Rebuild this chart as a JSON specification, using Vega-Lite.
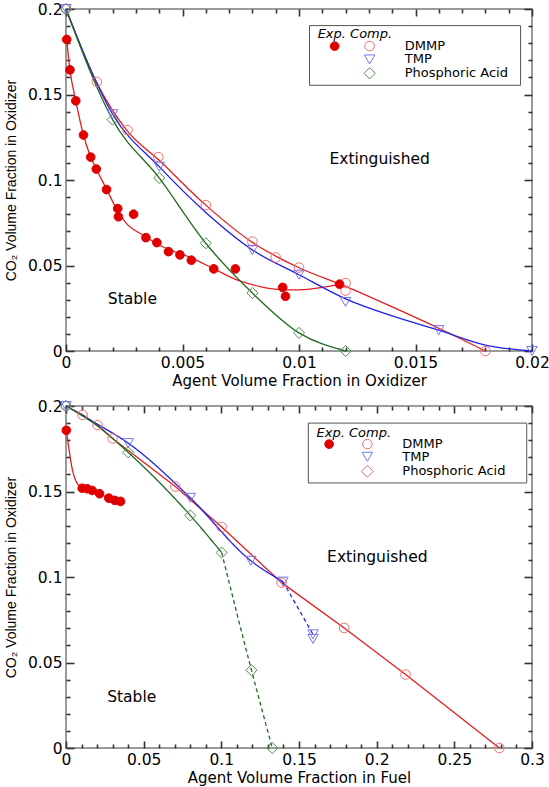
{
  "$schema": "https://vega.github.io/schema/vega-lite/v6.json",
  "padding": {"left": 3, "top": 0, "right": 0, "bottom": 0},
  "spacing": 7,
  "config": {
    "view": {"stroke": "#7a7a7a", "strokeWidth": 1.5},
    "axis": {"domain": false, "grid": false, "labelFlush": false, "labelOverlap": false, "tickColor": "#333333", "tickWidth": 1.6, "labelFont": "DejaVu Sans", "labelFontSize": 15.5, "labelColor": "#000000", "titleFont": "DejaVu Sans", "titleFontSize": 15, "titleFontWeight": "normal", "titleColor": "#000000"},
    "text": {"font": "DejaVu Sans", "fontSize": 15.5, "color": "#000000"}
  },
  "datasets": {
    "tp": [
      {"s": "DMMP", "x": 0, "y": 0.2}, {"s": "DMMP", "x": 0.00132, "y": 0.1574}, {"s": "DMMP", "x": 0.00264, "y": 0.1292}, {"s": "DMMP", "x": 0.00396, "y": 0.1134}, {"s": "DMMP", "x": 0.006, "y": 0.0853}, {"s": "DMMP", "x": 0.008, "y": 0.064}, {"s": "DMMP", "x": 0.009, "y": 0.0547}, {"s": "DMMP", "x": 0.01, "y": 0.0488}, {"s": "DMMP", "x": 0.012, "y": 0.0397}, {"s": "DMMP", "x": 0.012, "y": 0.0353}, {"s": "DMMP", "x": 0.018, "y": 0.0},
      {"s": "PA", "x": 0, "y": 0.2}, {"s": "PA", "x": 0.002, "y": 0.1353}, {"s": "PA", "x": 0.004, "y": 0.1012}, {"s": "PA", "x": 0.006, "y": 0.063}, {"s": "PA", "x": 0.008, "y": 0.0339}, {"s": "PA", "x": 0.01, "y": 0.0106}, {"s": "PA", "x": 0.012, "y": 0.0},
      {"s": "TMP", "x": 0, "y": 0.2}, {"s": "TMP", "x": 0.002, "y": 0.1385}, {"s": "TMP", "x": 0.004, "y": 0.1078}, {"s": "TMP", "x": 0.008, "y": 0.0591}, {"s": "TMP", "x": 0.01, "y": 0.0446}, {"s": "TMP", "x": 0.012, "y": 0.0287}, {"s": "TMP", "x": 0.016, "y": 0.0122}, {"s": "TMP", "x": 0.02, "y": 0.0},
      {"s": "exp", "x": 0.00003, "y": 0.1822}, {"s": "exp", "x": 0.00017, "y": 0.1644}, {"s": "exp", "x": 0.00042, "y": 0.1463}, {"s": "exp", "x": 0.00075, "y": 0.1263}, {"s": "exp", "x": 0.00106, "y": 0.1134}, {"s": "exp", "x": 0.0013, "y": 0.1064}, {"s": "exp", "x": 0.00174, "y": 0.0944}, {"s": "exp", "x": 0.00222, "y": 0.0833}, {"s": "exp", "x": 0.00225, "y": 0.0785}, {"s": "exp", "x": 0.0029, "y": 0.08}, {"s": "exp", "x": 0.00343, "y": 0.0663}, {"s": "exp", "x": 0.0039, "y": 0.0634}, {"s": "exp", "x": 0.0044, "y": 0.0581}, {"s": "exp", "x": 0.00489, "y": 0.0562}, {"s": "exp", "x": 0.00538, "y": 0.0531}, {"s": "exp", "x": 0.00634, "y": 0.048}, {"s": "exp", "x": 0.00727, "y": 0.048}, {"s": "exp", "x": 0.0093, "y": 0.0372}, {"s": "exp", "x": 0.00942, "y": 0.032}, {"s": "exp", "x": 0.01174, "y": 0.0391}
    ],
    "tf": [
      {"s": "exp", "x": 0.00003, "y": 0.1822}, {"s": "exp", "x": 0.00017, "y": 0.1644}, {"s": "exp", "x": 0.00042, "y": 0.1463}, {"s": "exp", "x": 0.00075, "y": 0.1263}, {"s": "exp", "x": 0.00106, "y": 0.1134}, {"s": "exp", "x": 0.0013, "y": 0.1064}, {"s": "exp", "x": 0.00175, "y": 0.0944}, {"s": "exp", "x": 0.00225, "y": 0.081}, {"s": "exp", "x": 0.0026, "y": 0.0745}, {"s": "exp", "x": 0.0033, "y": 0.0678}, {"s": "exp", "x": 0.004, "y": 0.062}, {"s": "exp", "x": 0.0054, "y": 0.0543}, {"s": "exp", "x": 0.0063, "y": 0.0484}, {"s": "exp", "x": 0.0073, "y": 0.0417}, {"s": "exp", "x": 0.0083, "y": 0.0378}, {"s": "exp", "x": 0.0091, "y": 0.036}, {"s": "exp", "x": 0.01, "y": 0.0357}, {"s": "exp", "x": 0.011, "y": 0.0372}, {"s": "exp", "x": 0.0117, "y": 0.039},
      {"s": "DMMP", "x": 0, "y": 0.2}, {"s": "DMMP", "x": 0.0013, "y": 0.1574}, {"s": "DMMP", "x": 0.0026, "y": 0.1292}, {"s": "DMMP", "x": 0.004, "y": 0.1115}, {"s": "DMMP", "x": 0.006, "y": 0.0853}, {"s": "DMMP", "x": 0.008, "y": 0.0635}, {"s": "DMMP", "x": 0.009, "y": 0.0555}, {"s": "DMMP", "x": 0.01, "y": 0.0487}, {"s": "DMMP", "x": 0.012, "y": 0.0378}, {"s": "DMMP", "x": 0.014, "y": 0.0258}, {"s": "DMMP", "x": 0.016, "y": 0.0133}, {"s": "DMMP", "x": 0.018, "y": 0.0},
      {"s": "TMP", "x": 0, "y": 0.2}, {"s": "TMP", "x": 0.002, "y": 0.1385}, {"s": "TMP", "x": 0.004, "y": 0.1078}, {"s": "TMP", "x": 0.006, "y": 0.081}, {"s": "TMP", "x": 0.008, "y": 0.0591}, {"s": "TMP", "x": 0.01, "y": 0.0446}, {"s": "TMP", "x": 0.012, "y": 0.0305}, {"s": "TMP", "x": 0.014, "y": 0.0205}, {"s": "TMP", "x": 0.016, "y": 0.0122}, {"s": "TMP", "x": 0.018, "y": 0.0035}, {"s": "TMP", "x": 0.02, "y": 0.0},
      {"s": "PA", "x": 0, "y": 0.2}, {"s": "PA", "x": 0.002, "y": 0.1353}, {"s": "PA", "x": 0.004, "y": 0.1012}, {"s": "PA", "x": 0.006, "y": 0.063}, {"s": "PA", "x": 0.008, "y": 0.0339}, {"s": "PA", "x": 0.01, "y": 0.0106}, {"s": "PA", "x": 0.012, "y": 0.0}
    ],
    "tbox": [{"x": 0.01045, "x2": 0.01951, "y": 0.1903, "y2": 0.1554}],
    "thead": [{"t": "Exp. Comp.", "x": 0.0108, "y": 0.1851}],
    "tent": [{"t": "DMMP", "x": 0.01454, "y": 0.1783}, {"t": "TMP", "x": 0.01454, "y": 0.1705}, {"t": "Phosphoric Acid", "x": 0.01454, "y": 0.1624}],
    "tsym": [{"s": "exp", "x": 0.01153, "y": 0.1783}, {"s": "DMMP", "x": 0.01303, "y": 0.1783}, {"s": "TMP", "x": 0.01303, "y": 0.1705}, {"s": "PA", "x": 0.01303, "y": 0.1624}],
    "tlab": [{"t": "Extinguished", "x": 0.01346, "y": 0.1124}, {"t": "Stable", "x": 0.00285, "y": 0.0306}],
    "bp": [
      {"s": "DMMP", "x": 0, "y": 0.2}, {"s": "DMMP", "x": 0.0107, "y": 0.1948}, {"s": "DMMP", "x": 0.0203, "y": 0.1888}, {"s": "DMMP", "x": 0.03, "y": 0.181}, {"s": "DMMP", "x": 0.0704, "y": 0.1529}, {"s": "DMMP", "x": 0.1002, "y": 0.1292}, {"s": "DMMP", "x": 0.1388, "y": 0.0967}, {"s": "DMMP", "x": 0.1791, "y": 0.0702}, {"s": "DMMP", "x": 0.2186, "y": 0.043}, {"s": "DMMP", "x": 0.279, "y": 0.0},
      {"s": "PA", "x": 0, "y": 0.2}, {"s": "PA", "x": 0.04, "y": 0.1729}, {"s": "PA", "x": 0.08, "y": 0.136}, {"s": "PA", "x": 0.1002, "y": 0.1143}, {"s": "PA", "x": 0.1194, "y": 0.0455}, {"s": "PA", "x": 0.1328, "y": 0.0},
      {"s": "TMP", "x": 0, "y": 0.2}, {"s": "TMP", "x": 0.04, "y": 0.1783}, {"s": "TMP", "x": 0.08, "y": 0.1463}, {"s": "TMP", "x": 0.119, "y": 0.1095}, {"s": "TMP", "x": 0.1397, "y": 0.0973}, {"s": "TMP", "x": 0.159, "y": 0.0665}, {"s": "TMP", "x": 0.159, "y": 0.0638},
      {"s": "exp", "x": 0.0002, "y": 0.1858}, {"s": "exp", "x": 0.01045, "y": 0.1519}, {"s": "exp", "x": 0.01365, "y": 0.1516}, {"s": "exp", "x": 0.01686, "y": 0.1506}, {"s": "exp", "x": 0.0216, "y": 0.1487}, {"s": "exp", "x": 0.0276, "y": 0.1461}, {"s": "exp", "x": 0.0314, "y": 0.1448}, {"s": "exp", "x": 0.0351, "y": 0.1442}
    ],
    "bf": [
      {"s": "exp", "d": "solid", "x": 0.0002, "y": 0.1858}, {"s": "exp", "d": "solid", "x": 0.0019, "y": 0.1748}, {"s": "exp", "d": "solid", "x": 0.004, "y": 0.1632}, {"s": "exp", "d": "solid", "x": 0.0062, "y": 0.1564}, {"s": "exp", "d": "solid", "x": 0.0088, "y": 0.1531}, {"s": "exp", "d": "solid", "x": 0.01045, "y": 0.1519}, {"s": "exp", "d": "solid", "x": 0.01365, "y": 0.1516}, {"s": "exp", "d": "solid", "x": 0.01686, "y": 0.1506}, {"s": "exp", "d": "solid", "x": 0.0216, "y": 0.1487}, {"s": "exp", "d": "solid", "x": 0.0276, "y": 0.1461}, {"s": "exp", "d": "solid", "x": 0.0314, "y": 0.1448}, {"s": "exp", "d": "solid", "x": 0.0351, "y": 0.1442},
      {"s": "DMMP", "d": "solid", "x": 0, "y": 0.2}, {"s": "DMMP", "d": "solid", "x": 0.0107, "y": 0.1948}, {"s": "DMMP", "d": "solid", "x": 0.0203, "y": 0.1888}, {"s": "DMMP", "d": "solid", "x": 0.03, "y": 0.181}, {"s": "DMMP", "d": "solid", "x": 0.0704, "y": 0.1529}, {"s": "DMMP", "d": "solid", "x": 0.1002, "y": 0.1292}, {"s": "DMMP", "d": "solid", "x": 0.1388, "y": 0.0967}, {"s": "DMMP", "d": "solid", "x": 0.1791, "y": 0.0702}, {"s": "DMMP", "d": "solid", "x": 0.2186, "y": 0.043}, {"s": "DMMP", "d": "solid", "x": 0.279, "y": 0.0},
      {"s": "TMP", "d": "solid", "x": 0, "y": 0.2}, {"s": "TMP", "d": "solid", "x": 0.02, "y": 0.1895}, {"s": "TMP", "d": "solid", "x": 0.04, "y": 0.1783}, {"s": "TMP", "d": "solid", "x": 0.08, "y": 0.1463}, {"s": "TMP", "d": "solid", "x": 0.119, "y": 0.1095}, {"s": "TMP", "d": "solid", "x": 0.1397, "y": 0.0973},
      {"s": "TMP", "d": "dash", "x": 0.1397, "y": 0.0973}, {"s": "TMP", "d": "dash", "x": 0.159, "y": 0.0665},
      {"s": "PA", "d": "solid", "x": 0, "y": 0.2}, {"s": "PA", "d": "solid", "x": 0.02, "y": 0.1885}, {"s": "PA", "d": "solid", "x": 0.04, "y": 0.1729}, {"s": "PA", "d": "solid", "x": 0.08, "y": 0.136}, {"s": "PA", "d": "solid", "x": 0.1002, "y": 0.1143},
      {"s": "PA", "d": "dash", "x": 0.1002, "y": 0.1143}, {"s": "PA", "d": "dash", "x": 0.1194, "y": 0.0455}, {"s": "PA", "d": "dash", "x": 0.1328, "y": 0.0}
    ],
    "bbox": [{"x": 0.156, "x2": 0.2966, "y": 0.19, "y2": 0.155}],
    "bhead": [{"t": "Exp. Comp.", "x": 0.1613, "y": 0.1845}],
    "bent": [{"t": "DMMP", "x": 0.2165, "y": 0.1777}, {"t": "TMP", "x": 0.2165, "y": 0.1703}, {"t": "Phosphoric Acid", "x": 0.2165, "y": 0.1618}],
    "bsym": [{"s": "exp", "x": 0.1694, "y": 0.1777}, {"s": "DMMP", "x": 0.194, "y": 0.1777}, {"s": "TMP", "x": 0.194, "y": 0.1703}, {"s": "PAL", "x": 0.194, "y": 0.1618}],
    "blab": [{"t": "Extinguished", "x": 0.2004, "y": 0.1118}, {"t": "Stable", "x": 0.0423, "y": 0.03}]
  },
  "vconcat": [
    {
      "width": 466, "height": 342,
      "resolve": {"axis": {"x": "independent", "y": "independent"}},
      "layer": [
        {"data": {"name": "tf"}, "transform": [{"filter": "datum.s === 'exp'"}], "mark": {"type": "line", "interpolate": "monotone", "color": "#e41e1e", "strokeWidth": 1.3},
         "encoding": {"x": {"field": "x", "type": "quantitative", "scale": {"domain": [0, 0.02], "nice": false, "zero": false}, "axis": {"orient": "bottom", "values": [0, 0.005, 0.01, 0.015, 0.02], "format": "~g", "title": "Agent Volume Fraction in Oxidizer", "ticks": false, "tickSize": 0, "labelPadding": 4, "titlePadding": 3}},
                      "y": {"field": "y", "type": "quantitative", "scale": {"domain": [0, 0.2], "nice": false, "zero": false}, "axis": {"orient": "left", "values": [0, 0.05, 0.1, 0.15, 0.2], "format": "~g", "title": "CO₂ Volume Fraction in Oxidizer", "titleFont": "Liberation Sans", "titleFontSize": 14, "ticks": false, "tickSize": 0, "labelPadding": 4, "titlePadding": 9}}}},
        {"data": {"name": "tf"}, "transform": [{"filter": "datum.s === 'DMMP'"}], "mark": {"type": "line", "interpolate": "monotone", "color": "#e41e1e", "strokeWidth": 1.3},
         "encoding": {"x": {"field": "x", "type": "quantitative", "scale": {"domain": [0, 0.02], "nice": false, "zero": false}, "axis": {"orient": "bottom", "values": [0, 0.005, 0.01, 0.015, 0.02], "labels": false, "title": null, "tickSize": 7, "offset": -7}},
                      "y": {"field": "y", "type": "quantitative", "scale": {"domain": [0, 0.2], "nice": false, "zero": false}, "axis": {"orient": "left", "values": [0, 0.05, 0.1, 0.15, 0.2], "labels": false, "title": null, "tickSize": 8, "offset": -8}}}},
        {"data": {"name": "tf"}, "transform": [{"filter": "datum.s === 'TMP'"}], "mark": {"type": "line", "interpolate": "monotone", "color": "#2020e6", "strokeWidth": 1.3},
         "encoding": {"x": {"field": "x", "type": "quantitative", "scale": {"domain": [0, 0.02], "nice": false, "zero": false}, "axis": {"orient": "bottom", "values": [0.001, 0.002, 0.003, 0.004, 0.006, 0.007, 0.008, 0.009, 0.011, 0.012, 0.013, 0.014, 0.016, 0.017, 0.018, 0.019], "labels": false, "title": null, "tickSize": 4, "offset": -4}},
                      "y": {"field": "y", "type": "quantitative", "scale": {"domain": [0, 0.2], "nice": false, "zero": false}, "axis": {"orient": "left", "values": [0.01, 0.02, 0.03, 0.04, 0.06, 0.07, 0.08, 0.09, 0.11, 0.12, 0.13, 0.14, 0.16, 0.17, 0.18, 0.19], "labels": false, "title": null, "tickSize": 4, "offset": -4}}}},
        {"data": {"name": "tf"}, "transform": [{"filter": "datum.s === 'PA'"}], "mark": {"type": "line", "interpolate": "monotone", "color": "#1e6b1e", "strokeWidth": 1.3},
         "encoding": {"x": {"field": "x", "type": "quantitative", "scale": {"domain": [0, 0.02], "nice": false, "zero": false}, "axis": {"orient": "top", "values": [0, 0.005, 0.01, 0.015, 0.02], "labels": false, "title": null, "tickSize": 7, "offset": -7}},
                      "y": {"field": "y", "type": "quantitative", "scale": {"domain": [0, 0.2], "nice": false, "zero": false}, "axis": {"orient": "right", "values": [0, 0.05, 0.1, 0.15, 0.2], "labels": false, "title": null, "tickSize": 8, "offset": -8}}}},
        {"data": {"name": "tbox"}, "mark": {"type": "rect", "fill": "#ffffff", "stroke": "#555555", "strokeWidth": 1},
         "encoding": {"x": {"field": "x", "type": "quantitative", "axis": null}, "x2": {"field": "x2"}, "y": {"field": "y", "type": "quantitative", "axis": null}, "y2": {"field": "y2"}}},
        {"data": {"name": "tp"}, "mark": {"type": "point", "filled": true, "strokeWidth": 1, "opacity": 1},
         "encoding": {"x": {"field": "x", "type": "quantitative", "axis": {"orient": "top", "values": [0.001, 0.002, 0.003, 0.004, 0.006, 0.007, 0.008, 0.009, 0.011, 0.012, 0.013, 0.014, 0.016, 0.017, 0.018, 0.019], "labels": false, "title": null, "tickSize": 4, "offset": -4}},
           "y": {"field": "y", "type": "quantitative", "axis": {"orient": "right", "values": [0.01, 0.02, 0.03, 0.04, 0.06, 0.07, 0.08, 0.09, 0.11, 0.12, 0.13, 0.14, 0.16, 0.17, 0.18, 0.19], "labels": false, "title": null, "tickSize": 4, "offset": -4}},
           "shape": {"field": "s", "type": "nominal", "scale": {"domain": ["exp", "DMMP", "TMP", "PA", "PAL"], "range": ["circle", "circle", "triangle-down", "diamond", "diamond"]}, "legend": null},
           "fill": {"field": "s", "type": "nominal", "scale": {"domain": ["exp", "DMMP", "TMP", "PA", "PAL"], "range": ["#e00000", "transparent", "transparent", "transparent", "transparent"]}, "legend": null},
           "stroke": {"field": "s", "type": "nominal", "scale": {"domain": ["exp", "DMMP", "TMP", "PA", "PAL"], "range": ["#e00000", "#f07070", "#7474f2", "#4f8f4f", "#e860b0"]}, "legend": null},
           "size": {"field": "s", "type": "nominal", "scale": {"domain": ["exp", "DMMP", "TMP", "PA", "PAL"], "range": [75, 140, 160, 150, 150]}, "legend": null}}},
        {"data": {"name": "tsym"}, "mark": {"type": "point", "filled": true, "strokeWidth": 1, "opacity": 1},
         "encoding": {"x": {"field": "x", "type": "quantitative", "axis": null}, "y": {"field": "y", "type": "quantitative", "axis": null},
           "shape": {"field": "s", "type": "nominal", "scale": {"domain": ["exp", "DMMP", "TMP", "PA", "PAL"], "range": ["circle", "circle", "triangle-down", "diamond", "diamond"]}, "legend": null},
           "fill": {"field": "s", "type": "nominal", "scale": {"domain": ["exp", "DMMP", "TMP", "PA", "PAL"], "range": ["#e00000", "transparent", "transparent", "transparent", "transparent"]}, "legend": null},
           "stroke": {"field": "s", "type": "nominal", "scale": {"domain": ["exp", "DMMP", "TMP", "PA", "PAL"], "range": ["#e00000", "#f07070", "#7474f2", "#4f8f4f", "#e860b0"]}, "legend": null},
           "size": {"field": "s", "type": "nominal", "scale": {"domain": ["exp", "DMMP", "TMP", "PA", "PAL"], "range": [75, 140, 160, 150, 150]}, "legend": null}}},
        {"data": {"name": "thead"}, "mark": {"type": "text", "align": "left", "baseline": "middle", "fontStyle": "italic", "fontSize": 13},
         "encoding": {"x": {"field": "x", "type": "quantitative", "axis": null}, "y": {"field": "y", "type": "quantitative", "axis": null}, "text": {"field": "t"}}},
        {"data": {"name": "tent"}, "mark": {"type": "text", "align": "left", "baseline": "middle", "fontSize": 13},
         "encoding": {"x": {"field": "x", "type": "quantitative", "axis": null}, "y": {"field": "y", "type": "quantitative", "axis": null}, "text": {"field": "t"}}},
        {"data": {"name": "tlab"}, "mark": {"type": "text", "align": "center", "baseline": "middle", "fontSize": 15.5},
         "encoding": {"x": {"field": "x", "type": "quantitative", "axis": null}, "y": {"field": "y", "type": "quantitative", "axis": null}, "text": {"field": "t"}}}
      ]
    },
    {
      "width": 466, "height": 342,
      "resolve": {"axis": {"x": "independent", "y": "independent"}},
      "layer": [
        {"data": {"name": "bf"}, "transform": [{"filter": "datum.s === 'exp'"}], "mark": {"type": "line", "interpolate": "monotone", "color": "#e41e1e", "strokeWidth": 1.3},
         "encoding": {"x": {"field": "x", "type": "quantitative", "scale": {"domain": [0, 0.3], "nice": false, "zero": false}, "axis": {"orient": "bottom", "values": [0, 0.05, 0.1, 0.15, 0.2, 0.25, 0.3], "format": "~g", "title": "Agent Volume Fraction in Fuel", "ticks": false, "tickSize": 0, "labelPadding": 4, "titlePadding": 3}},
                      "y": {"field": "y", "type": "quantitative", "scale": {"domain": [0, 0.2], "nice": false, "zero": false}, "axis": {"orient": "left", "values": [0, 0.05, 0.1, 0.15, 0.2], "format": "~g", "title": "CO₂ Volume Fraction in Oxidizer", "titleFont": "Liberation Sans", "titleFontSize": 14, "ticks": false, "tickSize": 0, "labelPadding": 4, "titlePadding": 9}}}},
        {"data": {"name": "bf"}, "transform": [{"filter": "datum.s === 'DMMP'"}], "mark": {"type": "line", "interpolate": "linear", "color": "#e41e1e", "strokeWidth": 1.3},
         "encoding": {"x": {"field": "x", "type": "quantitative", "scale": {"domain": [0, 0.3], "nice": false, "zero": false}, "axis": {"orient": "bottom", "values": [0, 0.05, 0.1, 0.15, 0.2, 0.25, 0.3], "labels": false, "title": null, "tickSize": 7, "offset": -7}},
                      "y": {"field": "y", "type": "quantitative", "scale": {"domain": [0, 0.2], "nice": false, "zero": false}, "axis": {"orient": "left", "values": [0, 0.05, 0.1, 0.15, 0.2], "labels": false, "title": null, "tickSize": 8, "offset": -8}}}},
        {"data": {"name": "bf"}, "transform": [{"filter": "datum.s === 'TMP'"}], "mark": {"type": "line", "interpolate": "monotone", "color": "#2020e6", "strokeWidth": 1.3},
         "encoding": {"x": {"field": "x", "type": "quantitative", "scale": {"domain": [0, 0.3], "nice": false, "zero": false}, "axis": {"orient": "bottom", "values": [0.01, 0.02, 0.03, 0.04, 0.06, 0.07, 0.08, 0.09, 0.11, 0.12, 0.13, 0.14, 0.16, 0.17, 0.18, 0.19, 0.21, 0.22, 0.23, 0.24, 0.26, 0.27, 0.28, 0.29], "labels": false, "title": null, "tickSize": 4, "offset": -4}},
                      "y": {"field": "y", "type": "quantitative", "scale": {"domain": [0, 0.2], "nice": false, "zero": false}, "axis": {"orient": "left", "values": [0.01, 0.02, 0.03, 0.04, 0.06, 0.07, 0.08, 0.09, 0.11, 0.12, 0.13, 0.14, 0.16, 0.17, 0.18, 0.19], "labels": false, "title": null, "tickSize": 4, "offset": -4}},
                      "strokeDash": {"field": "d", "type": "nominal", "scale": {"domain": ["solid", "dash"], "range": [[1, 0], [4, 3]]}, "legend": null}}},
        {"data": {"name": "bf"}, "transform": [{"filter": "datum.s === 'PA'"}], "mark": {"type": "line", "interpolate": "monotone", "color": "#1e6b1e", "strokeWidth": 1.3},
         "encoding": {"x": {"field": "x", "type": "quantitative", "scale": {"domain": [0, 0.3], "nice": false, "zero": false}, "axis": {"orient": "top", "values": [0, 0.05, 0.1, 0.15, 0.2, 0.25, 0.3], "labels": false, "title": null, "tickSize": 7, "offset": -7}},
                      "y": {"field": "y", "type": "quantitative", "scale": {"domain": [0, 0.2], "nice": false, "zero": false}, "axis": {"orient": "right", "values": [0, 0.05, 0.1, 0.15, 0.2], "labels": false, "title": null, "tickSize": 8, "offset": -8}},
                      "strokeDash": {"field": "d", "type": "nominal", "scale": {"domain": ["solid", "dash"], "range": [[1, 0], [4, 3]]}, "legend": null}}},
        {"data": {"name": "bbox"}, "mark": {"type": "rect", "fill": "#ffffff", "stroke": "#555555", "strokeWidth": 1},
         "encoding": {"x": {"field": "x", "type": "quantitative", "axis": null}, "x2": {"field": "x2"}, "y": {"field": "y", "type": "quantitative", "axis": null}, "y2": {"field": "y2"}}},
        {"data": {"name": "bp"}, "mark": {"type": "point", "filled": true, "strokeWidth": 1, "opacity": 1},
         "encoding": {"x": {"field": "x", "type": "quantitative", "axis": {"orient": "top", "values": [0.01, 0.02, 0.03, 0.04, 0.06, 0.07, 0.08, 0.09, 0.11, 0.12, 0.13, 0.14, 0.16, 0.17, 0.18, 0.19, 0.21, 0.22, 0.23, 0.24, 0.26, 0.27, 0.28, 0.29], "labels": false, "title": null, "tickSize": 4, "offset": -4}},
           "y": {"field": "y", "type": "quantitative", "axis": {"orient": "right", "values": [0.01, 0.02, 0.03, 0.04, 0.06, 0.07, 0.08, 0.09, 0.11, 0.12, 0.13, 0.14, 0.16, 0.17, 0.18, 0.19], "labels": false, "title": null, "tickSize": 4, "offset": -4}},
           "shape": {"field": "s", "type": "nominal", "scale": {"domain": ["exp", "DMMP", "TMP", "PA", "PAL"], "range": ["circle", "circle", "triangle-down", "diamond", "diamond"]}, "legend": null},
           "fill": {"field": "s", "type": "nominal", "scale": {"domain": ["exp", "DMMP", "TMP", "PA", "PAL"], "range": ["#e00000", "transparent", "transparent", "transparent", "transparent"]}, "legend": null},
           "stroke": {"field": "s", "type": "nominal", "scale": {"domain": ["exp", "DMMP", "TMP", "PA", "PAL"], "range": ["#e00000", "#f07070", "#7474f2", "#4f8f4f", "#e860b0"]}, "legend": null},
           "size": {"field": "s", "type": "nominal", "scale": {"domain": ["exp", "DMMP", "TMP", "PA", "PAL"], "range": [85, 140, 160, 150, 150]}, "legend": null}}},
        {"data": {"name": "bsym"}, "mark": {"type": "point", "filled": true, "strokeWidth": 1, "opacity": 1},
         "encoding": {"x": {"field": "x", "type": "quantitative", "axis": null}, "y": {"field": "y", "type": "quantitative", "axis": null},
           "shape": {"field": "s", "type": "nominal", "scale": {"domain": ["exp", "DMMP", "TMP", "PA", "PAL"], "range": ["circle", "circle", "triangle-down", "diamond", "diamond"]}, "legend": null},
           "fill": {"field": "s", "type": "nominal", "scale": {"domain": ["exp", "DMMP", "TMP", "PA", "PAL"], "range": ["#e00000", "transparent", "transparent", "transparent", "transparent"]}, "legend": null},
           "stroke": {"field": "s", "type": "nominal", "scale": {"domain": ["exp", "DMMP", "TMP", "PA", "PAL"], "range": ["#e00000", "#f07070", "#7474f2", "#4f8f4f", "#e860b0"]}, "legend": null},
           "size": {"field": "s", "type": "nominal", "scale": {"domain": ["exp", "DMMP", "TMP", "PA", "PAL"], "range": [85, 140, 160, 150, 150]}, "legend": null}}},
        {"data": {"name": "bhead"}, "mark": {"type": "text", "align": "left", "baseline": "middle", "fontStyle": "italic", "fontSize": 13},
         "encoding": {"x": {"field": "x", "type": "quantitative", "axis": null}, "y": {"field": "y", "type": "quantitative", "axis": null}, "text": {"field": "t"}}},
        {"data": {"name": "bent"}, "mark": {"type": "text", "align": "left", "baseline": "middle", "fontSize": 13},
         "encoding": {"x": {"field": "x", "type": "quantitative", "axis": null}, "y": {"field": "y", "type": "quantitative", "axis": null}, "text": {"field": "t"}}},
        {"data": {"name": "blab"}, "mark": {"type": "text", "align": "center", "baseline": "middle", "fontSize": 15.5},
         "encoding": {"x": {"field": "x", "type": "quantitative", "axis": null}, "y": {"field": "y", "type": "quantitative", "axis": null}, "text": {"field": "t"}}}
      ]
    }
  ]
}
